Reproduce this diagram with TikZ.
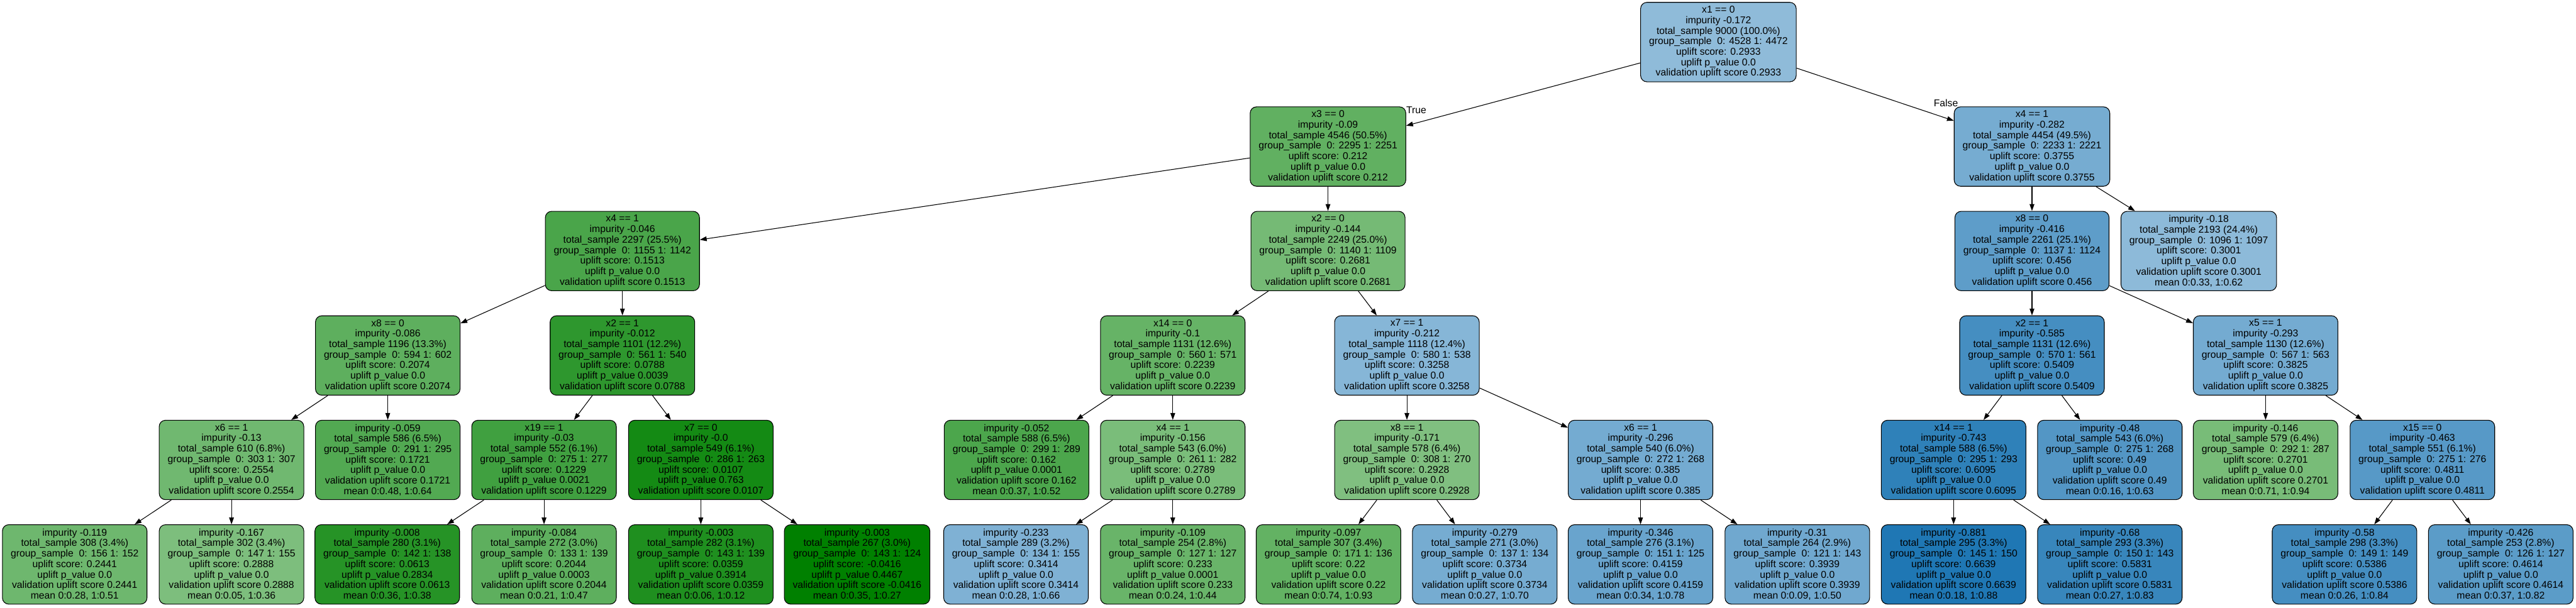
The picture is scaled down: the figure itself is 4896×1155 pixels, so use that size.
\documentclass[tikz,border=0pt]{standalone}
\usepackage{fontspec}
\setmainfont{Liberation Sans}
\usetikzlibrary{arrows.meta, positioning}
\definecolor{upgreen}{RGB}{0, 128, 0}
\definecolor{upblue}{RGB}{31, 119, 180}
\tikzset{
    treenode/.style = {draw=black, rectangle, rounded corners=12pt, line width=1.3pt, 
      inner xsep=16pt, inner ysep=4pt, minimum height=151pt, node distance=198.6pt, 
      font=\fontsize{18.8}{20}\selectfont},
    greennode/.style = {treenode, fill=upgreen!#1!white},
    bluenode/.style = {treenode, fill=upblue!#1!white},
    textnode/.style  = {draw=none, fill=none, rectangle, inner sep=0em, font=\fontsize{18.8}{20}\selectfont},
    connect/.style = {black, line width=1.3pt, -{Triangle[length=13pt, width=9pt]}},
    every text node part/.style={align=center}
}
\newcommand{\splitinfo}[7]{#1\\impurity #2\\total\_sample #3\\group\_sample~ #4\\uplift score: #5\\uplift p\_value #6\\validation uplift score #7}
\newcommand{\leafinfo}[7]{impurity #1\\total\_sample #2\\group\_sample~ #3\\uplift score: #4\\uplift p\_value #5\\validation uplift score #6\\mean #7}

\begin{document}
\begin{tikzpicture}[x=1pt, y=1pt]
    \useasboundingbox (0,0) rectangle (4896,-1155);

    % root and first split
    \node [name = root, bluenode=50] at (3266,-80) {\splitinfo{x1 == 0}{-0.172}{9000 (100.0\%)}{0: 4528 1: 4472}{0.2933}{0.0}{0.2933}};
    \node [name = L, greennode=62, below of = root, xshift=-742pt] {\splitinfo{x3 == 0}{-0.09}{4546 (50.5\%)}{0: 2295 1: 2251}{0.212}{0.0}{0.212}};
    \node [name = R, bluenode=61, below of = root, xshift=596pt] {\splitinfo{x4 == 1}{-0.282}{4454 (49.5\%)}{0: 2233 1: 2221}{0.3755}{0.0}{0.3755}};

    % level 2
    \node [name = LL, greennode=71, below of = L, xshift=-1341pt] {\splitinfo{x4 == 1}{-0.046}{2297 (25.5\%)}{0: 1155 1: 1142}{0.1513}{0.0}{0.1513}};
    \node [name = LR, greennode=54, below of = L] {\splitinfo{x2 == 0}{-0.144}{2249 (25.0\%)}{0: 1140 1: 1109}{0.2681}{0.0}{0.2681}};
    \node [name = RL, bluenode=72, below of = R] {\splitinfo{x8 == 0}{-0.416}{2261 (25.1\%)}{0: 1137 1: 1124}{0.456}{0.0}{0.456}};
    \node [name = RR, bluenode=51, below of = R, xshift=317pt] {\leafinfo{-0.18}{2193 (24.4\%)}{0: 1096 1: 1097}{0.3001}{0.0}{0.3001}{0:0.33, 1:0.62}};

    % level 3
    \node [name = LLL, greennode=63, below of = LL, xshift=-446pt] {\splitinfo{x8 == 0}{-0.086}{1196 (13.3\%)}{0: 594 1: 602}{0.2074}{0.0}{0.2074}};
    \node [name = LLR, greennode=82, below of = LL] {\splitinfo{x2 == 1}{-0.012}{1101 (12.2\%)}{0: 561 1: 540}{0.0788}{0.0039}{0.0788}};
    \node [name = LRL, greennode=60, below of = LR, xshift=-295pt] {\splitinfo{x14 == 0}{-0.1}{1131 (12.6\%)}{0: 560 1: 571}{0.2239}{0.0}{0.2239}};
    \node [name = LRR, bluenode=54, below of = LR, xshift=150pt] {\splitinfo{x7 == 1}{-0.212}{1118 (12.4\%)}{0: 580 1: 538}{0.3258}{0.0}{0.3258}};
    \node [name = RLL, bluenode=83, below of = RL] {\splitinfo{x2 == 1}{-0.585}{1131 (12.6\%)}{0: 570 1: 561}{0.5409}{0.0}{0.5409}};
    \node [name = RLR, bluenode=62, below of = RL, xshift=444pt] {\splitinfo{x5 == 1}{-0.293}{1130 (12.6\%)}{0: 567 1: 563}{0.3825}{0.0}{0.3825}};

    % level 4
    \node [name = LLLL, greennode=56, below of = LLL, xshift=-297pt] {\splitinfo{x6 == 1}{-0.13}{610 (6.8\%)}{0: 303 1: 307}{0.2554}{0.0}{0.2554}};
    \node [name = LLLR, greennode=68, below of = LLL] {\leafinfo{-0.059}{586 (6.5\%)}{0: 291 1: 295}{0.1721}{0.0}{0.1721}{0:0.48, 1:0.64}};
    \node [name = LLRL, greennode=75, below of = LLR, xshift=-149pt] {\splitinfo{x19 == 1}{-0.03}{552 (6.1\%)}{0: 275 1: 277}{0.1229}{0.0021}{0.1229}};
    \node [name = LLRR, greennode=92, below of = LLR, xshift=149pt] {\splitinfo{x7 == 0}{-0.0}{549 (6.1\%)}{0: 286 1: 263}{0.0107}{0.763}{0.0107}};
    \node [name = LRLL, greennode=70, below of = LRL, xshift=-297pt] {\leafinfo{-0.052}{588 (6.5\%)}{0: 299 1: 289}{0.162}{0.0001}{0.162}{0:0.37, 1:0.52}};
    \node [name = LRLR, greennode=52, below of = LRL] {\splitinfo{x4 == 1}{-0.156}{543 (6.0\%)}{0: 261 1: 282}{0.2789}{0.0}{0.2789}};
    \node [name = LRRL, greennode=50, below of = LRR] {\splitinfo{x8 == 1}{-0.171}{578 (6.4\%)}{0: 308 1: 270}{0.2928}{0.0}{0.2928}};
    \node [name = LRRR, bluenode=62, below of = LRR, xshift=444pt] {\splitinfo{x6 == 1}{-0.296}{540 (6.0\%)}{0: 272 1: 268}{0.385}{0.0}{0.385}};
    \node [name = RLLL, bluenode=93, below of = RLL, xshift=-149pt] {\splitinfo{x14 == 1}{-0.743}{588 (6.5\%)}{0: 295 1: 293}{0.6095}{0.0}{0.6095}};
    \node [name = RLLR, bluenode=77, below of = RLL, xshift=148pt] {\leafinfo{-0.48}{543 (6.0\%)}{0: 275 1: 268}{0.49}{0.0}{0.49}{0:0.16, 1:0.63}};
    \node [name = RLRL, greennode=53, below of = RLR] {\leafinfo{-0.146}{579 (6.4\%)}{0: 292 1: 287}{0.2701}{0.0}{0.2701}{0:0.71, 1:0.94}};
    \node [name = RLRR, bluenode=75, below of = RLR, xshift=298pt] {\splitinfo{x15 == 0}{-0.463}{551 (6.1\%)}{0: 275 1: 276}{0.4811}{0.0}{0.4811}};

    % level 5 (leaves)
    \node [name = LLLLL, greennode=57, below of = LLLL, xshift=-298pt] {\leafinfo{-0.119}{308 (3.4\%)}{0: 156 1: 152}{0.2441}{0.0}{0.2441}{0:0.28, 1:0.51}};
    \node [name = LLLLR, greennode=51, below of = LLLL] {\leafinfo{-0.167}{302 (3.4\%)}{0: 147 1: 155}{0.2888}{0.0}{0.2888}{0:0.05, 1:0.36}};
    \node [name = LLRLL, greennode=85, below of = LLRL, xshift=-298pt] {\leafinfo{-0.008}{280 (3.1\%)}{0: 142 1: 138}{0.0613}{0.2834}{0.0613}{0:0.36, 1:0.38}};
    \node [name = LLRLR, greennode=63, below of = LLRL] {\leafinfo{-0.084}{272 (3.0\%)}{0: 133 1: 139}{0.2044}{0.0003}{0.2044}{0:0.21, 1:0.47}};
    \node [name = LLRRL, greennode=88, below of = LLRR] {\leafinfo{-0.003}{282 (3.1\%)}{0: 143 1: 139}{0.0359}{0.3914}{0.0359}{0:0.06, 1:0.12}};
    \node [name = LLRRR, greennode=100, below of = LLRR, xshift=297pt] {\leafinfo{-0.003}{267 (3.0\%)}{0: 143 1: 124}{-0.0416}{0.4467}{-0.0416}{0:0.35, 1:0.27}};
    \node [name = LRLRL, bluenode=57, below of = LRLR, xshift=-298pt] {\leafinfo{-0.233}{289 (3.2\%)}{0: 134 1: 155}{0.3414}{0.0}{0.3414}{0:0.28, 1:0.66}};
    \node [name = LRLRR, greennode=59, below of = LRLR] {\leafinfo{-0.109}{254 (2.8\%)}{0: 127 1: 127}{0.233}{0.0001}{0.233}{0:0.24, 1:0.44}};
    \node [name = LRRLL, greennode=61, below of = LRRL, xshift=-149pt] {\leafinfo{-0.097}{307 (3.4\%)}{0: 171 1: 136}{0.22}{0.0}{0.22}{0:0.74, 1:0.93}};
    \node [name = LRRLR, bluenode=61, below of = LRRL, xshift=148pt] {\leafinfo{-0.279}{271 (3.0\%)}{0: 137 1: 134}{0.3734}{0.0}{0.3734}{0:0.27, 1:0.70}};
    \node [name = LRRRL, bluenode=67, below of = LRRR] {\leafinfo{-0.346}{276 (3.1\%)}{0: 151 1: 125}{0.4159}{0.0}{0.4159}{0:0.34, 1:0.78}};
    \node [name = LRRRR, bluenode=64, below of = LRRR, xshift=298pt] {\leafinfo{-0.31}{264 (2.9\%)}{0: 121 1: 143}{0.3939}{0.0}{0.3939}{0:0.09, 1:0.50}};
    \node [name = RLLLL, bluenode=100, below of = RLLL] {\leafinfo{-0.881}{295 (3.3\%)}{0: 145 1: 150}{0.6639}{0.0}{0.6639}{0:0.18, 1:0.88}};
    \node [name = RLLLR, bluenode=89, below of = RLLL, xshift=297pt] {\leafinfo{-0.68}{293 (3.3\%)}{0: 150 1: 143}{0.5831}{0.0}{0.5831}{0:0.27, 1:0.83}};
    \node [name = RLRRL, bluenode=83, below of = RLRR, xshift=-148pt] {\leafinfo{-0.58}{298 (3.3\%)}{0: 149 1: 149}{0.5386}{0.0}{0.5386}{0:0.26, 1:0.84}};
    \node [name = RLRRR, bluenode=73, below of = RLRR, xshift=149pt] {\leafinfo{-0.426}{253 (2.8\%)}{0: 126 1: 127}{0.4614}{0.0}{0.4614}{0:0.37, 1:0.82}};

    % branch labels
    \node [name = lblTrue, textnode, anchor=north west] at (L.north east) {True};
    \node [name = lblFalse, textnode, anchor=south east, xshift=8pt] at (R.north west) {False};

    % edges
    \draw (root) edge[connect] (L) edge[connect] (R);
    \draw (L) edge[connect] (LL) edge[connect] (LR);
    \draw (R) edge[connect] (RL) edge[connect] (RR);
    \draw (LL) edge[connect] (LLL) edge[connect] (LLR);
    \draw (LR) edge[connect] (LRL) edge[connect] (LRR);
    \draw (RL) edge[connect] (RLL) edge[connect] (RLR);
    \draw (LLL) edge[connect] (LLLL) edge[connect] (LLLR);
    \draw (LLR) edge[connect] (LLRL) edge[connect] (LLRR);
    \draw (LRL) edge[connect] (LRLL) edge[connect] (LRLR);
    \draw (LRR) edge[connect] (LRRL) edge[connect] (LRRR);
    \draw (RLL) edge[connect] (RLLL) edge[connect] (RLLR);
    \draw (RLR) edge[connect] (RLRL) edge[connect] (RLRR);
    \draw (LLLL) edge[connect] (LLLLL) edge[connect] (LLLLR);
    \draw (LLRL) edge[connect] (LLRLL) edge[connect] (LLRLR);
    \draw (LLRR) edge[connect] (LLRRL) edge[connect] (LLRRR);
    \draw (LRLR) edge[connect] (LRLRL) edge[connect] (LRLRR);
    \draw (LRRL) edge[connect] (LRRLL) edge[connect] (LRRLR);
    \draw (LRRR) edge[connect] (LRRRL) edge[connect] (LRRRR);
    \draw (RLLL) edge[connect] (RLLLL) edge[connect] (RLLLR);
    \draw (RLRR) edge[connect] (RLRRL) edge[connect] (RLRRR);
\end{tikzpicture}
\end{document}
